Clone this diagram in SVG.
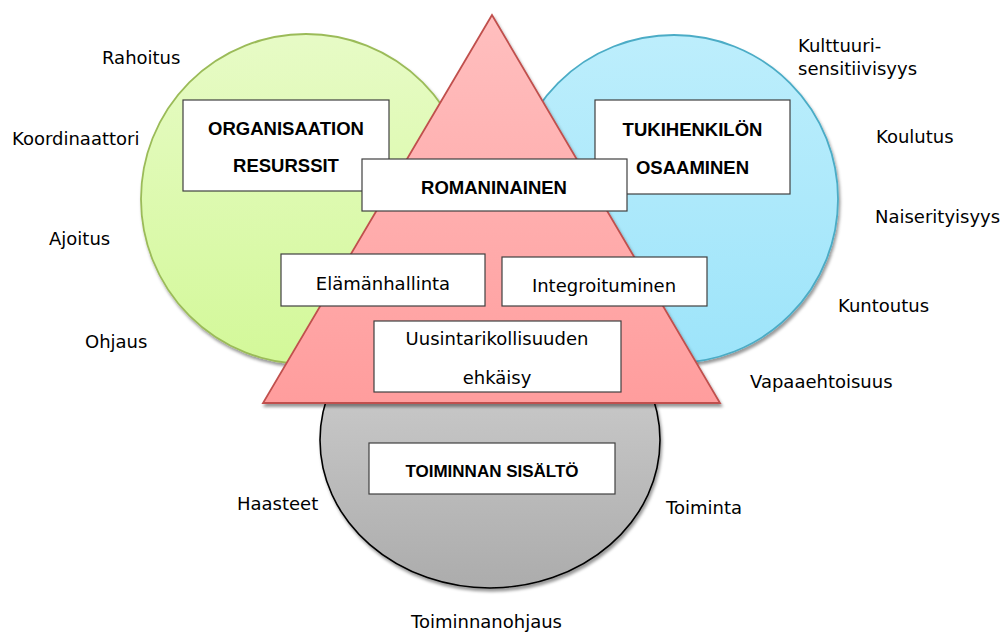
<svg xmlns="http://www.w3.org/2000/svg" width="1000" height="633" viewBox="0 0 1000 633">
  <defs>
    <linearGradient id="gGreen" x1="0" y1="0" x2="0" y2="1">
      <stop offset="0" stop-color="#e7fbc6"/>
      <stop offset="1" stop-color="#d3f899"/>
    </linearGradient>
    <linearGradient id="gBlue" x1="0" y1="0" x2="0" y2="1">
      <stop offset="0" stop-color="#bdeefc"/>
      <stop offset="1" stop-color="#9de4fa"/>
    </linearGradient>
    <linearGradient id="gRed" x1="0" y1="0" x2="0" y2="1">
      <stop offset="0" stop-color="#ffbfbf"/>
      <stop offset="1" stop-color="#ff9d9d"/>
    </linearGradient>
    <linearGradient id="gGray" x1="0" y1="0" x2="0" y2="1">
      <stop offset="0" stop-color="#d6d6d6"/>
      <stop offset="1" stop-color="#acacac"/>
    </linearGradient>
    <filter id="shadow" x="-10%" y="-10%" width="125%" height="125%">
      <feDropShadow dx="1.5" dy="3" stdDeviation="1.8" flood-color="#000" flood-opacity="0.4"/>
    </filter>
    <style>
      .box { fill: #ffffff; stroke: #404040; stroke-width: 1.2; }
      .t { font-family: "DejaVu Sans", Verdana, sans-serif; font-size: 18px; fill: #000; }
      .tc { text-anchor: middle; }
      .b { font-family: "Liberation Sans", Arial, sans-serif; font-weight: bold; font-size: 18.5px; fill: #000; text-anchor: middle; }
    </style>
  </defs>
  <rect width="1000" height="633" fill="#ffffff"/>

  <g id="circle-organisaatio">
    <circle cx="306" cy="199" r="165" fill="url(#gGreen)" stroke="#9bbb59" stroke-width="1.8" filter="url(#shadow)"/>
  </g>
  <g id="circle-tukihenkilo">
    <circle cx="674" cy="199" r="164" fill="url(#gBlue)" stroke="#4bacc6" stroke-width="1.8" filter="url(#shadow)"/>
  </g>
  <g id="ellipse-toiminta">
    <ellipse cx="490" cy="440" rx="170" ry="148" fill="url(#gGray)" stroke="#000" stroke-width="1.6" filter="url(#shadow)"/>
  </g>
  <g id="triangle">
    <polygon points="492,15 263,403 720,403" fill="url(#gRed)" stroke="#c0504d" stroke-width="1.8" stroke-linejoin="miter" filter="url(#shadow)"/>
  </g>

  <g id="box-organisaation-resurssit">
    <rect class="box" x="183" y="100" width="206" height="91"/>
    <text class="b" x="286" y="135">ORGANISAATION</text>
    <text class="b" x="286" y="172">RESURSSIT</text>
  </g>
  <g id="box-tukihenkilon-osaaminen">
    <rect class="box" x="595" y="100" width="195" height="94"/>
    <text class="b" x="692.5" y="136">TUKIHENKILÖN</text>
    <text class="b" x="692.5" y="174">OSAAMINEN</text>
  </g>
  <g id="box-romaninainen">
    <rect class="box" x="362" y="159" width="265" height="52"/>
    <text class="b" x="494" y="194">ROMANINAINEN</text>
  </g>
  <g id="box-elamanhallinta">
    <rect class="box" x="281" y="254" width="204" height="52"/>
    <text class="t tc" x="383" y="290">Elämänhallinta</text>
  </g>
  <g id="box-integroituminen">
    <rect class="box" x="502" y="257" width="205" height="49"/>
    <text class="t tc" x="604" y="292">Integroituminen</text>
  </g>
  <g id="box-uusintarikollisuus">
    <rect class="box" x="374" y="321" width="247" height="71"/>
    <text class="t tc" x="497" y="345">Uusintarikollisuuden</text>
    <text class="t tc" x="497" y="384">ehkäisy</text>
  </g>
  <g id="box-toiminnan-sisalto">
    <rect class="box" x="369" y="443" width="246" height="51"/>
    <text class="b" x="492" y="477" style="font-size:17px">TOIMINNAN SISÄLTÖ</text>
  </g>

  <g id="labels-left">
    <text class="t" x="102" y="64">Rahoitus</text>
    <text class="t" x="12" y="145">Koordinaattori</text>
    <text class="t" x="49" y="245">Ajoitus</text>
    <text class="t" x="85" y="348">Ohjaus</text>
  </g>
  <g id="labels-right">
    <text class="t" x="798" y="52">Kulttuuri-</text>
    <text class="t" x="798" y="75">sensitiivisyys</text>
    <text class="t" x="876" y="143">Koulutus</text>
    <text class="t" x="875" y="223">Naiserityisyys</text>
    <text class="t" x="838" y="312">Kuntoutus</text>
    <text class="t" x="750" y="388">Vapaaehtoisuus</text>
  </g>
  <g id="labels-bottom">
    <text class="t" x="237" y="510">Haasteet</text>
    <text class="t" x="666" y="514">Toiminta</text>
    <text class="t" x="411" y="628">Toiminnanohjaus</text>
  </g>
  <g id="connectors"/>
</svg>
